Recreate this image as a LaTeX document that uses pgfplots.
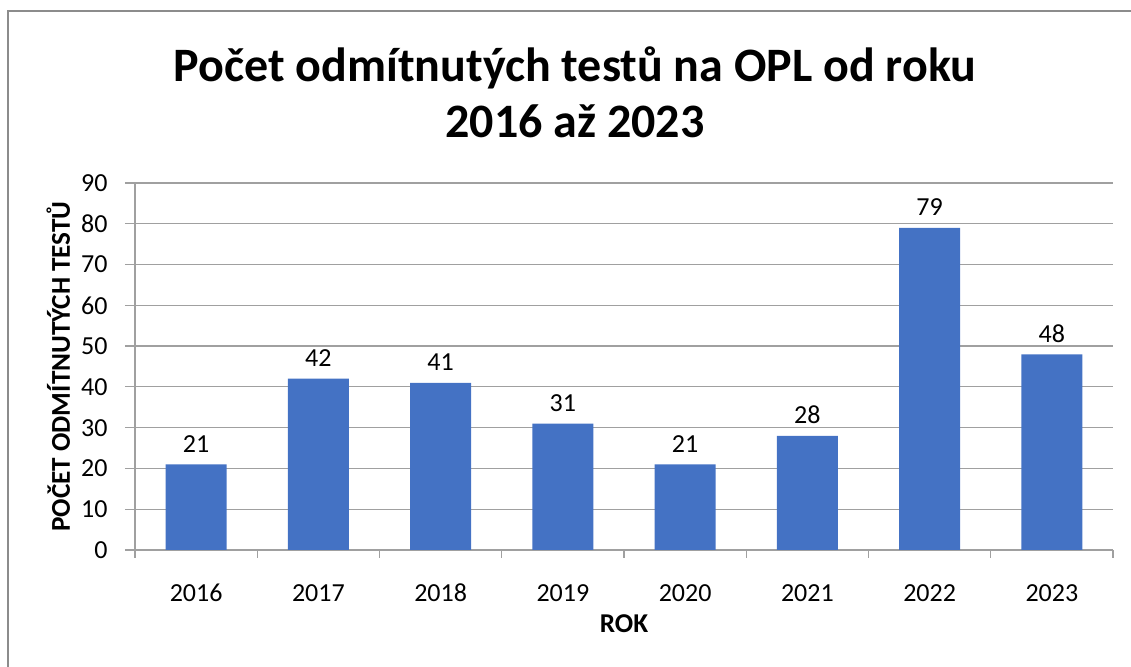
\documentclass[border=0pt]{standalone}
\usepackage{fontspec}
\setmainfont{Carlito}
\usepackage{pgfplots}
\pgfplotsset{compat=1.18}
\definecolor{barblue}{HTML}{4472C4}
\definecolor{axgray}{HTML}{A0A0A0}
\definecolor{framegray}{HTML}{8C8C8C}
\begin{document}
\begin{tikzpicture}
\useasboundingbox (0,0) rectangle (565.5pt,333.5pt);
\draw[framegray, line width=0.8pt] (4pt,0pt) -- (4pt,328pt) -- (565.5pt,328pt);
\node[anchor=base, font=\fontsize{24}{29}\selectfont\bfseries] at (287.5pt,292.5pt) {Počet odmítnutých testů na OPL od roku};
\node[anchor=base, font=\fontsize{24}{29}\selectfont\bfseries] at (287.5pt,264.5pt) {2016 až 2023};
\begin{axis}[
  at={(67.5pt,58.5pt)}, anchor=south west,
  scale only axis, width=489pt, height=183.5pt,
  xmin=-0.5, xmax=7.5, ymin=0, ymax=90,
  axis x line*=bottom, axis y line*=left,
  axis line style={-, draw=axgray, line width=0.6pt},
  xtick={0,1,2,3,4,5,6,7},
  xticklabels={2016,2017,2018,2019,2020,2021,2022,2023},
  minor xtick={-0.5,0.5,1.5,2.5,3.5,4.5,5.5,6.5,7.5},
  major x tick style={draw=none},
  minor x tick style={draw=axgray, line width=0.6pt},
  minor tick length=4pt,
  ytick={0,10,...,90},
  major tick length=5pt,
  y tick style={draw=axgray, line width=0.6pt},
  tick align=outside,
  ymajorgrids,
  grid style={draw=axgray, line width=0.6pt},
  /pgf/number format/assume math mode=true,
  tick label style={font=\fontsize{13}{15}\selectfont},
  xticklabel style={anchor=base, yshift=-21pt},
  yticklabel style={anchor=east, inner sep=0pt, xshift=-8.5pt},
  xlabel={ROK},
  ylabel={POČET ODMÍTNUTÝCH TESTŮ},
  label style={font=\fontsize{13.6}{16}\selectfont\bfseries},
  xlabel style={at={(rel axis cs:0.5,0)}, anchor=base, yshift=-41.5pt},
  ylabel style={at={(rel axis cs:0,0.5)}, anchor=base, yshift=32.5pt},
  ybar, bar width=30.5pt,
  nodes near coords,
  every node near coord/.append style={anchor=base, yshift=6pt, font=\fontsize{13}{15}\selectfont, text=black},
  clip=false,
]
\addplot[fill=barblue, draw=none] coordinates {(0,21) (1,42) (2,41) (3,31) (4,21) (5,28) (6,79) (7,48)};
\end{axis}
\end{tikzpicture}
\end{document}
